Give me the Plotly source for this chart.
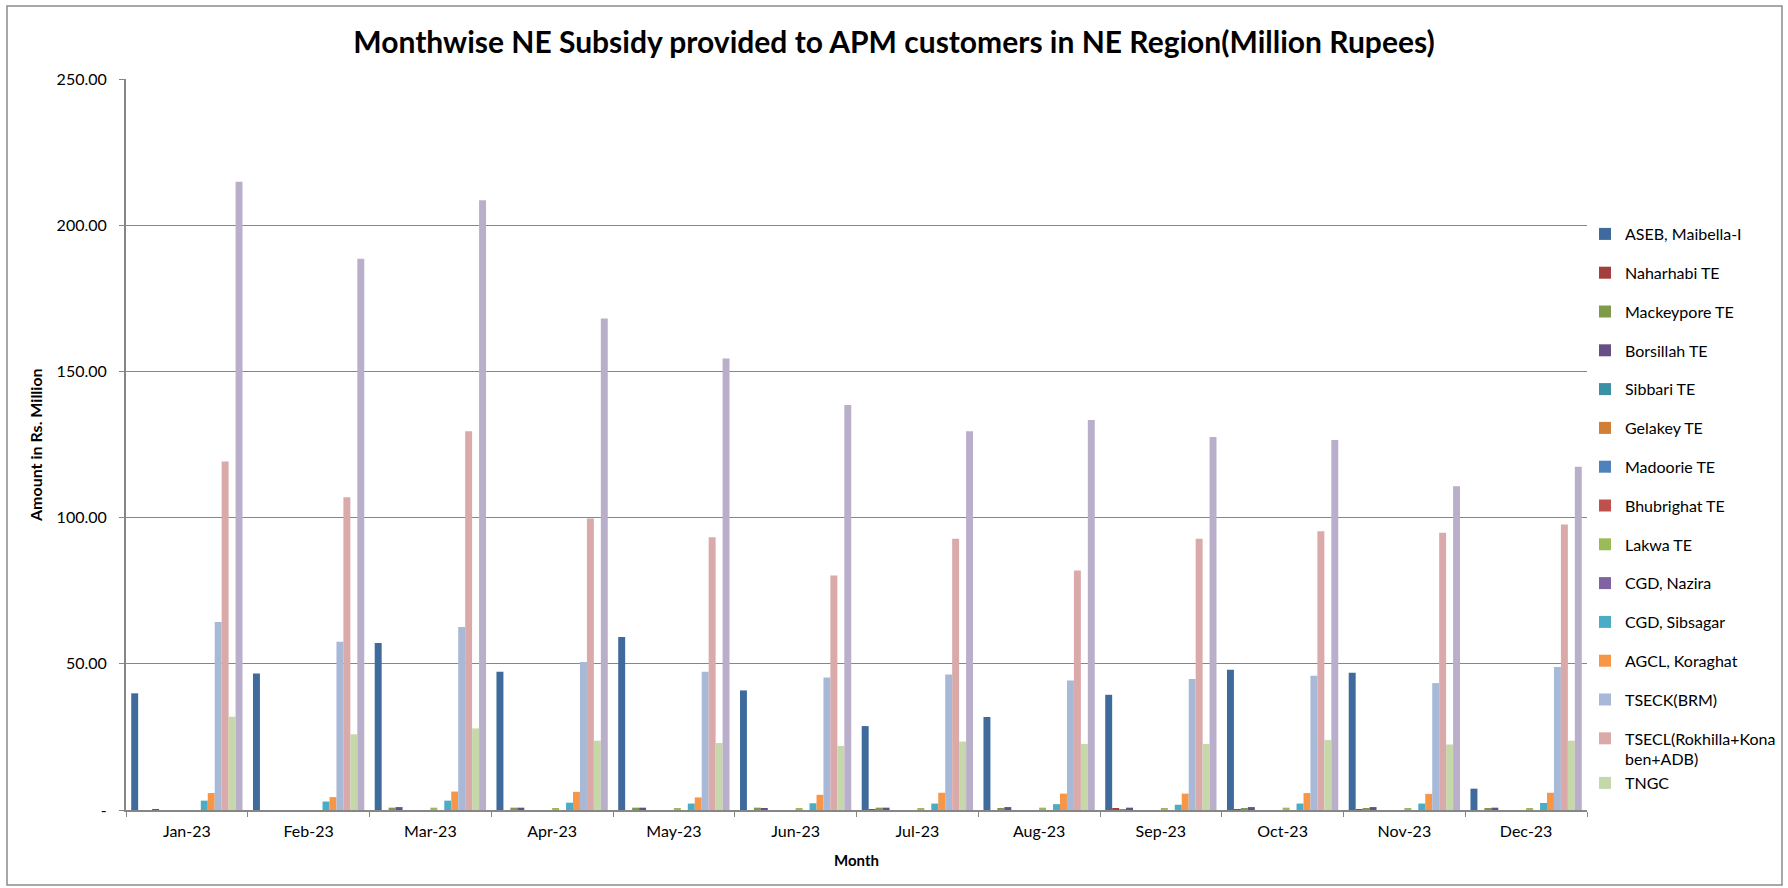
import plotly.graph_objects as go

months = ["Jan-23", "Feb-23", "Mar-23", "Apr-23", "May-23", "Jun-23",
          "Jul-23", "Aug-23", "Sep-23", "Oct-23", "Nov-23", "Dec-23"]

aseb_maibella = [39.9, 46.7, 57.1, 47.3, 59.2, 40.9, 28.7, 31.8, 39.4, 48.0, 46.9, 7.3]
naharhabi_te = [0, 0, 0, 0, 0, 0, 0.2, 0, 0.4, 0.3, 0.2, 0]
mackeypore_te = [0, 0, 0.8, 0.8, 0.8, 0.8, 0.8, 0.7, 0.3, 0.6, 0.5, 0.4]
borsillah_te = [0.1, 0, 1.0, 0.8, 0.8, 0.6, 0.8, 1.0, 0.8, 1.0, 1.0, 0.8]
sibbari_te = [0, 0, 0, 0, 0, 0, 0, 0, 0, 0, 0, 0]
gelakey_te = [0, 0, 0, 0, 0, 0, 0, 0, 0, 0, 0, 0]
madoorie_te = [0, 0, 0, 0, 0, 0, 0, 0, 0, 0, 0, 0]
bhubrighat_te = [0, 0, 0, 0, 0, 0, 0, 0, 0, 0, 0, 0]
lakwa_te = [0, 0, 0.8, 0.4, 0.5, 0.4, 0.7, 0.8, 0.7, 0.8, 0.6, 0.4]
cgd_nazira = [0, 0, 0, 0, 0, 0, 0, 0, 0, 0, 0, 0]
cgd_sibsagar = [3.2, 2.9, 3.2, 2.5, 2.2, 2.3, 2.2, 2.0, 1.8, 2.2, 2.2, 2.4]
agcl_koraghat = [5.8, 4.4, 6.3, 6.2, 4.3, 5.2, 5.9, 5.6, 5.6, 5.8, 5.5, 5.9]
tseck_brm = [64.3, 57.5, 62.6, 50.6, 47.3, 45.3, 46.3, 44.3, 44.8, 45.9, 43.4, 48.9]
tsecl_rokhilla = [119.2, 107.0, 129.5, 99.7, 93.3, 80.2, 92.8, 81.9, 92.8, 95.3, 94.8, 97.6]
tngc = [31.9, 25.9, 27.9, 23.7, 22.9, 21.9, 23.4, 22.6, 22.6, 23.9, 22.4, 23.7]
others = [214.9, 188.5, 208.5, 168.1, 154.4, 138.5, 129.5, 133.4, 127.6, 126.5, 110.7, 117.4]

series_names = ["ASEB, Maibella-I", "Naharhabi TE", "Mackeypore TE", "Borsillah TE",
                "Sibbari TE", "Gelakey TE", "Madoorie TE", "Bhubrighat TE", "Lakwa TE",
                "CGD, Nazira", "CGD, Sibsagar", "AGCL, Koraghat", "TSECK(BRM)",
                "TSECL(Rokhilla+Kona<br>ben+ADB)", "TNGC", "Others"]
series_values = [aseb_maibella, naharhabi_te, mackeypore_te, borsillah_te, sibbari_te,
                 gelakey_te, madoorie_te, bhubrighat_te, lakwa_te, cgd_nazira,
                 cgd_sibsagar, agcl_koraghat, tseck_brm, tsecl_rokhilla, tngc, others]
series_colors = ["#3E6A9C", "#A33F3C", "#7F9A48", "#664F85", "#3C90A5", "#D17E37",
                 "#4F81BD", "#C0504D", "#9BBB59", "#8064A2", "#4BACC6", "#F79646",
                 "#A8B9D8", "#D9AAA9", "#C6D7AA", "#BAAFCB"]
show_in_legend = [True] * 15 + [False]
# TNGC shares the group of the two-line TSECL entry so the legend spacing stays even
legend_groups = [f"g{i}" for i in range(16)]
legend_groups[14] = legend_groups[13]

y_ticks = [0, 50, 100, 150, 200, 250]
y_ticktext = ["-", "50.00", "100.00", "150.00", "200.00", "250.00"]

FONT = "Lato"
W, H = 1788, 888
L, R, T, B = 126, 1587, 79, 810

fig = go.Figure()
for name, vals, col, show, grp in zip(series_names, series_values, series_colors,
                                      show_in_legend, legend_groups):
    fig.add_trace(go.Bar(
        x=months, y=vals, name=name, marker=dict(color=col, line=dict(width=0)),
        showlegend=show, legendgroup=grp,
    ))

pw, ph = R - L, B - T

def px_x(p):
    return (p - L) / pw

def px_y(p):
    return (B - p) / ph

fig.update_layout(
    width=W, height=H,
    margin=dict(l=L, r=W - R, t=T, b=H - B, autoexpand=False),
    paper_bgcolor="white", plot_bgcolor="white",
    barmode="group", bargap=0.0857, bargroupgap=0,
    font=dict(family=FONT, size=16, color="#000000"),
    title=dict(text="<b>Monthwise NE Subsidy provided to APM customers in NE Region(Million Rupees)</b>",
               x=0.5, xanchor="center", y=1 - 42 / H, yanchor="middle",
               font=dict(family=FONT, size=30, color="#000000")),
    xaxis=dict(type="category", showline=True, linecolor="#868686", linewidth=2,
               ticks="outside", ticklen=5, tickcolor="#868686", tickwidth=1,
               tickson="boundaries", showgrid=False, ticklabelstandoff=6,
               tickfont=dict(family=FONT, size=16, color="#000000")),
    yaxis=dict(range=[0, 250], tickvals=y_ticks, ticktext=y_ticktext,
               showline=True, linecolor="#868686", linewidth=2,
               ticks="outside", ticklen=5, tickcolor="#868686", tickwidth=1,
               showgrid=True, gridcolor="#868686", gridwidth=1, zeroline=False,
               ticklabelstandoff=9,
               tickfont=dict(family=FONT, size=16, color="#000000")),
    legend=dict(xref="container", yref="container", x=1585 / W, y=1 - 217 / H,
                xanchor="left", yanchor="top", tracegroupgap=15, valign="top",
                traceorder="grouped", maxheight=800,
                bgcolor="rgba(0,0,0,0)", font=dict(family=FONT, size=16, color="#000000")),
    annotations=[
        dict(text="<b>Amount in Rs. Million</b>", textangle=-90, xref="paper", yref="paper",
             x=px_x(35), y=px_y(445), showarrow=False, xanchor="center", yanchor="middle",
             font=dict(family=FONT, size=16, color="#000000")),
        dict(text="<b>Month</b>", xref="paper", yref="paper",
             x=px_x(856), y=px_y(860), showarrow=False, xanchor="center", yanchor="middle",
             font=dict(family=FONT, size=15, color="#000000")),
    ],
    shapes=[dict(type="rect", xref="paper", yref="paper",
                 x0=px_x(7), x1=px_x(1782), y0=px_y(885), y1=px_y(6),
                 line=dict(color="#8C8C8C", width=1.5), fillcolor="rgba(0,0,0,0)", layer="below")],
)

fig.write_html("out.html", config={"displayModeBar": False},
               post_script="document.body.style.margin='0';document.body.style.overflow='hidden';")
